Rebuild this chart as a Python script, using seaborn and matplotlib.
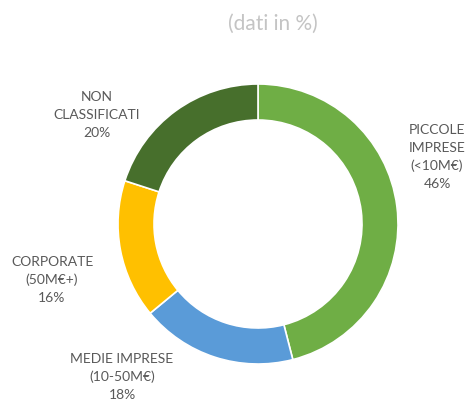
import matplotlib
matplotlib.use("Agg")
import matplotlib.pyplot as plt
import seaborn as sns

categories = ["PICCOLE\nIMPRESE\n(<10M€)", "MEDIE IMPRESE\n(10-50M€)",
              "CORPORATE\n(50M€+)", "NON\nCLASSIFICATI"]
values = [46, 18, 16, 20]
colors = ["#6FAE45", "#5A9BD8", "#FFC000", "#476F2C"]

sns.set_style("white")
plt.rcParams["font.family"] = ["Lato", "DejaVu Sans"]

W, H = 471, 402
fig = plt.figure(figsize=(W / 100, H / 100), dpi=100)
ax = fig.add_axes([0, 0, 1, 1])

# donut, centre and radius in pixel units of the figure
ax.pie(values, colors=colors, startangle=90, counterclock=False,
       center=(258, H - 225), radius=140, frame=True,
       wedgeprops=dict(width=36, edgecolor="white", linewidth=1.2))
ax.set_xlim(0, W)
ax.set_ylim(0, H)
ax.set_aspect("equal")
ax.set_axis_off()

# label positions (pixel coords of text centres)
label_pos = [(437, 157), (122, 377), (52, 280), (97, 115)]
for cat, val, (x, y) in zip(categories, values, label_pos):
    ax.text(x, H - y, f"{cat}\n{val}%", ha="center", va="center",
            fontsize=10, color="#595959", linespacing=1.6)

ax.text(273, H - 24, "(dati in %)", ha="center", va="center",
        fontsize=15, color="#C4C4C4")

fig.savefig("out.png", dpi=100)
